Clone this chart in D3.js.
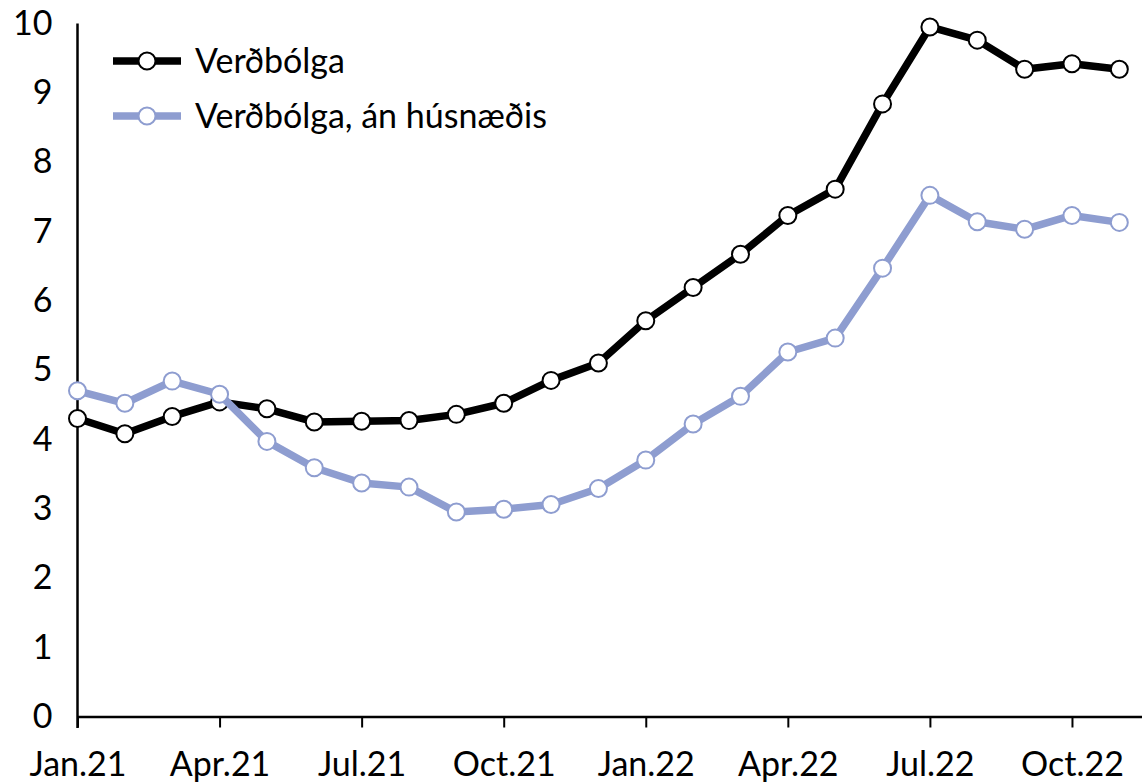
<!DOCTYPE html>
<html>
<head>
<meta charset="utf-8">
<script src="https://cdn.jsdelivr.net/npm/d3@7"></script>
<style>
  body { margin: 0; background: #fff; }
  text { font-family: Lato, "Open Sans", sans-serif; fill: #000; }
</style>
</head>
<body>
<svg id="chart" width="1142" height="783"></svg>
<script>
// months, one point per month
var months = ["Jan.21","Feb.21","Mar.21","Apr.21","May.21","Jun.21","Jul.21","Aug.21","Sep.21","Oct.21","Nov.21","Dec.21",
              "Jan.22","Feb.22","Mar.22","Apr.22","May.22","Jun.22","Jul.22","Aug.22","Sep.22","Oct.22","Nov.22"];
var tickMonths = ["Jan.21","Apr.21","Jul.21","Oct.21","Jan.22","Apr.22","Jul.22","Oct.22"];
var yTicks = [0,1,2,3,4,5,6,7,8,9,10];

var verdbolga = [4.30,4.08,4.33,4.54,4.44,4.25,4.26,4.27,4.36,4.52,4.85,5.10,
                 5.71,6.19,6.67,7.23,7.61,8.84,9.95,9.76,9.34,9.42,9.34];
var anHusnaedis = [4.70,4.52,4.84,4.65,3.97,3.59,3.37,3.31,2.95,2.99,3.06,3.29,
                   3.70,4.22,4.62,5.26,5.46,6.47,7.52,7.14,7.03,7.23,7.13];

var seriesNames = ["Verðbólga", "Verðbólga, án húsnæðis"];
var seriesColors = ["#000000", "#8e9dd0"];

var svg = d3.select("#chart");
var plotLeft = 77.5, plotRight = 1143, plotTop = 23.5, plotBottom = 716.5;
var fontSize = 34;

var x = d3.scaleLinear().domain([0, months.length - 0.5]).range([plotLeft, plotRight]);
var y = d3.scaleLinear().domain([0, 10]).range([plotBottom, plotTop]);

// x axis
var xAxis = svg.append("g")
    .attr("transform", "translate(0," + plotBottom + ")")
    .call(d3.axisBottom(x)
          .tickValues(tickMonths.map(function(m) { return months.indexOf(m); }))
          .tickFormat(function(i) { return months[i]; })
          .tickSizeInner(11).tickSizeOuter(0).tickPadding(24));
xAxis.select(".domain").attr("stroke", "#000").attr("stroke-width", 2.5);
xAxis.selectAll(".tick line").attr("stroke", "#000").attr("stroke-width", 2);
xAxis.selectAll(".tick text").attr("font-size", fontSize).attr("font-family", "Lato").attr("fill", "#000");

// y axis (no tick marks, labels only)
var yAxis = svg.append("g")
    .attr("transform", "translate(" + plotLeft + ",0)")
    .call(d3.axisLeft(y).tickValues(yTicks).tickFormat(d3.format("d"))
          .tickSizeInner(0).tickSizeOuter(0).tickPadding(25));
yAxis.select(".domain").attr("stroke", "#000").attr("stroke-width", 2.5)
    .attr("d", "M0," + (plotBottom + 11.5) + "V" + plotTop);
yAxis.selectAll(".tick text").attr("font-size", fontSize).attr("font-family", "Lato").attr("fill", "#000");

var line = d3.line()
    .x(function(d, i) { return x(i); })
    .y(function(d) { return y(d); });

[verdbolga, anHusnaedis].forEach(function(values, k) {
    var g = svg.append("g");
    g.append("path")
        .datum(values)
        .attr("d", line)
        .attr("fill", "none")
        .attr("stroke", seriesColors[k])
        .attr("stroke-width", 7.5)
        .attr("stroke-linejoin", "round");
    g.selectAll("circle")
        .data(values)
        .enter().append("circle")
        .attr("cx", function(d, i) { return x(i); })
        .attr("cy", function(d) { return y(d); })
        .attr("r", 8.5)
        .attr("fill", "#fff")
        .attr("stroke", seriesColors[k])
        .attr("stroke-width", 2);
});

// legend
var legend = svg.append("g").attr("transform", "translate(113,61)");
seriesNames.forEach(function(name, k) {
    var row = legend.append("g").attr("transform", "translate(0," + (k * 55) + ")");
    row.append("line")
        .attr("x1", 0).attr("x2", 68)
        .attr("stroke", seriesColors[k]).attr("stroke-width", 7.5);
    row.append("circle")
        .attr("cx", 34).attr("r", 8.5)
        .attr("fill", "#fff").attr("stroke", seriesColors[k]).attr("stroke-width", 2);
    row.append("text")
        .attr("x", 82).attr("dy", "0.35em")
        .attr("font-size", fontSize)
        .text(name);
});
</script>
</body>
</html>
